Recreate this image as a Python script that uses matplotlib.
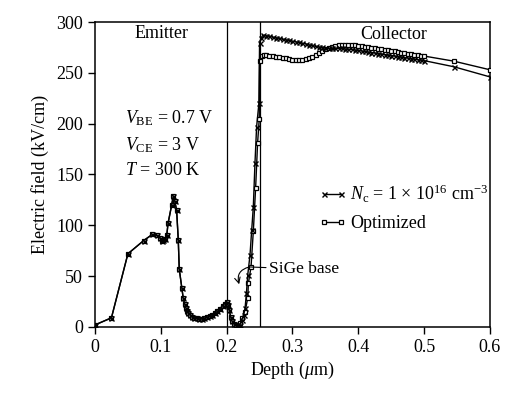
import numpy as np
import matplotlib
matplotlib.use('Agg')
import matplotlib.pyplot as plt

plt.rcParams['font.family'] = ['Liberation Serif', 'DejaVu Serif']
plt.rcParams['mathtext.fontset'] = 'custom'
plt.rcParams['mathtext.rm'] = 'Liberation Serif'
plt.rcParams['mathtext.it'] = 'Liberation Serif:italic'

# emitter region, both profiles coincide
emit_depth = [0.0, 0.025, 0.05, 0.074, 0.087, 0.094, 0.099, 0.102, 0.104, 0.107,
              0.109, 0.111, 0.1165, 0.119, 0.121, 0.124, 0.1265, 0.128, 0.132, 0.134,
              0.136, 0.138, 0.140, 0.142, 0.145, 0.148, 0.151, 0.155, 0.158, 0.162,
              0.166, 0.170, 0.174, 0.178, 0.182, 0.186, 0.190, 0.194, 0.197, 0.200,
              0.202, 0.204, 0.206, 0.208, 0.211, 0.214, 0.217]
emit_field = [2, 9, 72, 85, 91, 90, 87.5, 85, 85.5, 87,
              90, 102, 120, 129, 124, 115, 86, 57, 38, 28.5,
              23, 19, 16, 14, 12, 10, 9, 8.5, 8, 8,
              8.5, 9.5, 10.5, 12, 13.5, 15.5, 18, 21, 23, 25,
              22, 17, 10, 6, 3, 1.5, 1]

# Nc = 1e16 cm^-3 : base + collector
nc_depth = [0.220, 0.223, 0.226, 0.228, 0.230, 0.232, 0.2355, 0.238, 0.2405, 0.243,
            0.2455, 0.249, 0.250, 0.252,
            0.255, 0.260, 0.265, 0.270, 0.275, 0.280, 0.285, 0.290, 0.295, 0.300,
            0.305, 0.310, 0.315, 0.320, 0.325, 0.330, 0.335, 0.340, 0.345, 0.350,
            0.355, 0.360, 0.365, 0.370, 0.375, 0.380, 0.385, 0.390, 0.395, 0.400,
            0.405, 0.410, 0.415, 0.420, 0.425, 0.430, 0.435, 0.440, 0.445, 0.450,
            0.455, 0.460, 0.465, 0.470, 0.475, 0.480, 0.485, 0.490, 0.495, 0.500,
            0.545, 0.600]
nc_field = [2, 7, 12, 18.7, 33, 51, 71, 95, 118, 161,
            197, 220, 279, 284,
            287, 286.5, 286, 285, 284.5, 284, 283, 282.5, 282, 281,
            280.5, 280, 279, 278.5, 277.5, 277, 276, 275.5, 275, 274.5,
            274, 274, 274, 274, 274, 273.5, 273, 273, 272.5, 272,
            271.5, 271, 270.5, 270, 269.5, 269, 268.5, 268, 267.5, 267,
            266.5, 266, 265.5, 265, 264.5, 264, 263.5, 263, 262.5, 262,
            256, 246]

# optimized profile: base + collector
opt_depth = [0.218, 0.220, 0.224, 0.228, 0.232, 0.233, 0.237, 0.2405, 0.244, 0.247,
             0.2495, 0.250, 0.253, 0.256,
             0.260, 0.265, 0.270, 0.275, 0.280, 0.285, 0.290, 0.295, 0.300,
             0.305, 0.310, 0.315, 0.320, 0.325, 0.330, 0.335, 0.340, 0.345, 0.350,
             0.355, 0.360, 0.365, 0.370, 0.375, 0.380, 0.385, 0.390, 0.395, 0.400,
             0.405, 0.410, 0.415, 0.420, 0.425, 0.430, 0.435, 0.440, 0.445, 0.450,
             0.455, 0.460, 0.465, 0.470, 0.475, 0.480, 0.485, 0.490, 0.495, 0.500,
             0.545, 0.600]
opt_field = [2, 4, 9, 15, 28.5, 43, 59, 94, 136.7, 181,
             204.5, 262, 267, 268,
             267.5, 267, 266.5, 266, 265.5, 265, 264.5, 264, 263,
             262.5, 262.5, 263, 263.5, 264.5, 266, 267.5, 269.5, 271.5, 273,
             274.5, 275.5, 276.5, 277, 277.5, 277.5, 277.5, 277.5, 277, 276.5,
             276, 275.5, 275, 274.5, 274, 273.5, 273, 272.5, 272, 271.5,
             271, 270.5, 270, 269.5, 269, 268.5, 268, 267.5, 267, 266.5,
             261.5, 253]

x_nc = np.array(emit_depth + nc_depth)
y_nc = np.array(emit_field + nc_field)
x_opt = np.array(emit_depth + opt_depth)
y_opt = np.array(emit_field + opt_field)

fig = plt.figure(figsize=(5.23, 3.93), dpi=100)
ax = fig.add_axes([0.1816, 0.168, 0.7553, 0.776])

ax.plot(x_opt, y_opt, color='black', lw=1.0, marker='s', ms=3.4,
        mfc='white', mec='black', mew=0.9, label='Optimized', zorder=3)
ax.plot(x_nc, y_nc, color='black', lw=1.0, marker='x', ms=3.6,
        mew=1.0, label=r'$N_{\rm c}$ = 1 $\times$ 10$^{16}$ cm$^{-3}$', zorder=4)

ax.axvline(0.2, color='black', lw=0.9, zorder=2)
ax.axvline(0.25, color='black', lw=0.9, zorder=2)

ax.set_xlim(0, 0.6)
ax.set_ylim(0, 300)
ax.set_xticks(np.arange(0, 0.61, 0.1))
ax.set_xticklabels(['0', '0.1', '0.2', '0.3', '0.4', '0.5', '0.6'])
ax.set_yticks(np.arange(0, 301, 50))
ax.tick_params(direction='out', length=5, width=1, labelsize=13, top=False, right=False)
for s in ax.spines.values():
    s.set_linewidth(1.1)

ax.set_xlabel(r'Depth ($\mu$m)', fontsize=13, labelpad=3)
ax.set_ylabel('Electric field (kV/cm)', fontsize=13, labelpad=5)

ax.text(0.101, 289, 'Emitter', fontsize=13, ha='center', va='center')
ax.text(0.453, 288, 'Collector', fontsize=13, ha='center', va='center')
ax.text(0.045, 205, r'$V_{\rm BE}$ = 0.7 V', fontsize=13, va='center')
ax.text(0.045, 179, r'$V_{\rm CE}$ = 3 V', fontsize=13, va='center')
ax.text(0.045, 154, r'$T$ = 300 K', fontsize=13, va='center')

ax.annotate('SiGe base', xy=(0.236, 59), xytext=(0.264, 57), fontsize=12.5,
            va='center', arrowprops=dict(arrowstyle='-', lw=0.8, color='black',
                                         shrinkA=0, shrinkB=0))
ax.annotate('', xy=(0.219, 42), xytext=(0.234, 59),
            arrowprops=dict(arrowstyle='->', lw=0.8, color='black',
                            connectionstyle='arc3,rad=0.5', shrinkA=0, shrinkB=0))

h, l = ax.get_legend_handles_labels()
ax.legend(h[::-1], l[::-1], loc='upper left', bbox_to_anchor=(0.547, 0.495),
          frameon=False, fontsize=13, numpoints=2, handlelength=1.55,
          handletextpad=0.22, labelspacing=0.56, borderaxespad=0)

fig.savefig('out.png', dpi=100)
